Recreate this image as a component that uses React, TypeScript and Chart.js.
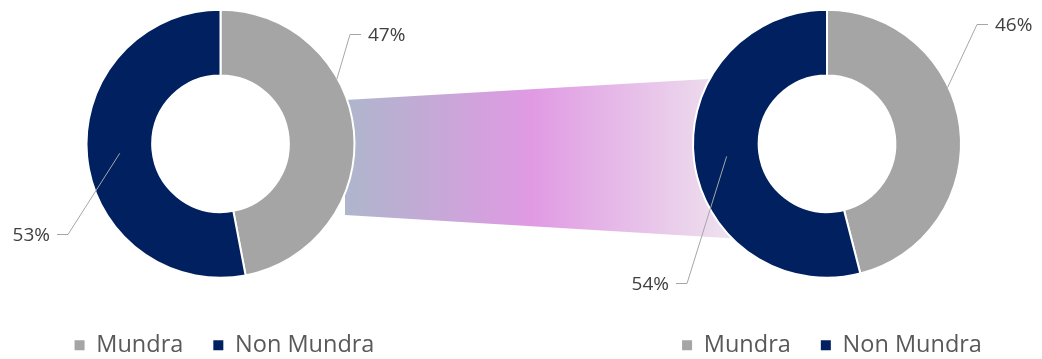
import React, { useEffect, useRef } from "react";
import { Chart, registerables } from "chart.js";

Chart.register(...registerables);

// ---- data ----
const categories = ["Mundra", "Non Mundra"];
const leftValues = [47, 53];
const rightValues = [46, 54];
const sliceColors = ["#A5A5A5", "#002060"];

// ---- layout / style ----
const W = 1042;
const H = 359;
const CANVAS_TOP = -16;
const CANVAS_H = 383;
const FONT = "'Open Sans', 'DejaVu Sans', sans-serif";

type LabelCfg = { deg?: number; ring: "outer" | "mid"; ex: number; ey: number; side: "left" | "right" };

const leftLabels: LabelCfg[] = [
  { deg: 61, ring: "outer", ex: 129.5, ey: -110, side: "right" },
  { ring: "mid", ex: -152.5, ey: 90, side: "left" },
];
const rightLabels: LabelCfg[] = [
  { deg: 65, ring: "outer", ex: 150, ey: -120, side: "right" },
  { ring: "mid", ex: -140, ey: 139, side: "left" },
];

function leaderLabelPlugin(cfgs: LabelCfg[]) {
  return {
    id: "leaderLabels",
    afterDatasetsDraw(chart: any) {
      const meta = chart.getDatasetMeta(0);
      const ctx = chart.ctx as CanvasRenderingContext2D;
      const values = chart.data.datasets[0].data as number[];
      ctx.save();
      meta.data.forEach((arc: any, i: number) => {
        const p = arc.getProps(["x", "y", "startAngle", "endAngle", "innerRadius", "outerRadius"], true);
        const c = cfgs[i];
        let ax: number, ay: number;
        if (c.ring === "outer") {
          const t = ((c.deg || 0) * Math.PI) / 180;
          const r = p.outerRadius - 1;
          ax = p.x + r * Math.sin(t);
          ay = p.y - r * Math.cos(t);
        } else {
          const a = (p.startAngle + p.endAngle) / 2;
          const r = (p.innerRadius + p.outerRadius) / 2;
          ax = p.x + r * Math.cos(a);
          ay = p.y + r * Math.sin(a);
        }
        const ex = p.x + c.ex;
        const ey = Math.round(p.y + c.ey) + 0.5;
        const dir = c.side === "right" ? 1 : -1;
        const hx = ex + dir * 11;
        ctx.strokeStyle = "#A6A6A6";
        ctx.lineWidth = 1;
        ctx.beginPath();
        ctx.moveTo(ax, ay);
        ctx.lineTo(ex, ey);
        ctx.lineTo(hx, ey);
        ctx.stroke();
        ctx.fillStyle = "#404040";
        ctx.font = `19px ${FONT}`;
        ctx.textBaseline = "middle";
        ctx.textAlign = dir > 0 ? "left" : "right";
        ctx.fillText(values[i] + "%", hx + dir * 7, ey + 1);
      });
      ctx.restore();
    },
  };
}

function legendShiftPlugin(dx: number) {
  return {
    id: "legendShift",
    afterLayout(chart: any) {
      if (chart.legend) {
        chart.legend.left += dx;
        chart.legend.right += dx;
      }
    },
  };
}

const bandPlugin = {
  id: "band",
  beforeDatasetsDraw(chart: any) {
    const ctx = chart.ctx as CanvasRenderingContext2D;
    const off = -CANVAS_TOP;
    const x0 = 345;
    const x1 = 760;
    ctx.save();
    const g = ctx.createLinearGradient(x0, 0, x1, 0);
    g.addColorStop(0, "#AEB6CC");
    g.addColorStop(0.45, "#E09AE3");
    g.addColorStop(0.93, "#EEE2EE");
    g.addColorStop(1, "#F2EAF2");
    ctx.fillStyle = g;
    ctx.beginPath();
    ctx.moveTo(x0, 100 + off);
    ctx.lineTo(x1, 76 + off);
    ctx.lineTo(x1, 240 + off);
    ctx.lineTo(x0, 215 + off);
    ctx.closePath();
    ctx.fill();
    ctx.restore();
  },
};

function makeChart(
  canvas: HTMLCanvasElement,
  values: number[],
  padding: { left: number; right: number; top: number; bottom: number },
  labels: LabelCfg[],
  extra: any[]
) {
  return new Chart(canvas, {
    type: "doughnut",
    data: {
      labels: categories,
      datasets: [
        {
          data: values,
          backgroundColor: sliceColors,
          borderColor: "#FFFFFF",
          borderWidth: 2,
          radius: 134,
          cutout: "51%",
        } as any,
      ],
    },
    options: {
      animation: false,
      responsive: true,
      maintainAspectRatio: false,
      events: [],
      layout: { padding },
      plugins: {
        tooltip: { enabled: false },
        legend: {
          position: "bottom",
          labels: {
            boxWidth: 10,
            boxHeight: 10,
            padding: 30,
            color: "#595959",
            font: { family: FONT, size: 23.5 },
            generateLabels: (chart: any) => {
              const base = (Chart as any).overrides.doughnut.plugins.legend.labels.generateLabels(chart);
              return base.map((it: any) => ({ ...it, lineWidth: 0 }));
            },
          },
        },
      },
    } as any,
    plugins: [...extra, leaderLabelPlugin(labels)],
  });
}

export default function App() {
  const leftRef = useRef<HTMLCanvasElement>(null);
  const rightRef = useRef<HTMLCanvasElement>(null);

  useEffect(() => {
    const c1 = makeChart(leftRef.current!, leftValues, { left: 0, right: 601, top: 0, bottom: 0 }, leftLabels, [
      bandPlugin,
      legendShiftPlugin(4),
    ]);
    const c2 = makeChart(rightRef.current!, rightValues, { left: 612, right: 0, top: 0, bottom: 0 }, rightLabels, [
      legendShiftPlugin(5),
    ]);
    return () => {
      c1.destroy();
      c2.destroy();
    };
  }, []);

  const layer: React.CSSProperties = { position: "absolute", left: 0, top: CANVAS_TOP, width: W, height: CANVAS_H };
  return (
    <div style={{ position: "absolute", left: 0, top: 0, width: W, height: H, overflow: "hidden", background: "#FFFFFF" }}>
      <div style={layer}>
        <canvas ref={leftRef} />
      </div>
      <div style={layer}>
        <canvas ref={rightRef} />
      </div>
    </div>
  );
}
